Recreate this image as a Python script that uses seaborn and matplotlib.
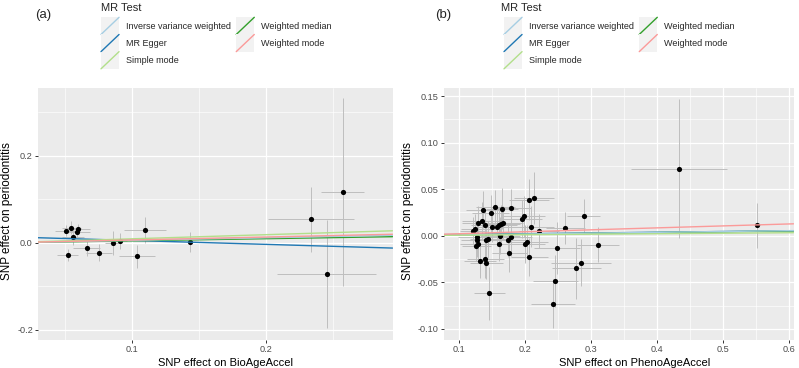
import numpy as np
import pandas as pd
import seaborn as sns
import matplotlib
matplotlib.use("Agg")
import matplotlib.pyplot as plt
from matplotlib.legend_handler import HandlerBase
from matplotlib.patches import Rectangle
from matplotlib.lines import Line2D
from matplotlib.ticker import FixedLocator, FormatStrFormatter

# ---------------- data ----------------
methods = ["Inverse variance weighted", "MR Egger", "Simple mode",
           "Weighted median", "Weighted mode"]
method_colors = ["#a6cee3", "#1f78b4", "#b2df8a", "#33a02c", "#fb9a99"]
draw_order = ["MR Egger", "Weighted median", "Inverse variance weighted",
              "Simple mode", "Weighted mode"]

# Panel (a): BioAgeAccel
a_x = [0.0505, 0.052, 0.0547, 0.056, 0.059, 0.060, 0.0664, 0.0754, 0.086,
       0.091, 0.104, 0.1095, 0.143, 0.233, 0.257, 0.245]
a_y = [0.028, -0.028, 0.035, 0.013, 0.025, 0.032, -0.012, -0.022, 0.000,
       0.005, -0.031, 0.030, 0.003, 0.054, 0.117, -0.071]
a_xse = [0.008, 0.008, 0.007, 0.008, 0.010, 0.009, 0.010, 0.010, 0.006,
         0.005, 0.0135, 0.0155, 0.002, 0.032, 0.016, 0.037]
a_yse = [0.013, 0.013, 0.015, 0.017, 0.012, 0.012, 0.017, 0.020, 0.027,
         0.018, 0.027, 0.030, 0.023, 0.074, 0.215, 0.124]
a_slope = [0.060, -0.090, 0.095, 0.049, 0.068]
a_intercept = [0.0, 0.0147, 0.0, 0.0, 0.0]

# Panel (b): PhenoAgeAccel
b_x = [0.1226, 0.1256, 0.130, 0.135, 0.1367, 0.1407, 0.1487, 0.1558, 0.151,
       0.159, 0.162, 0.165, 0.168, 0.166, 0.180, 0.1286, 0.1286, 0.130,
       0.1266, 0.1327, 0.1407, 0.1417, 0.141, 0.1447, 0.162, 0.163, 0.1744,
       0.180, 0.177, 0.1467, 0.1965, 0.199, 0.207, 0.214, 0.210, 0.222,
       0.201, 0.2035, 0.207, 0.249, 0.2467, 0.2432, 0.2618, 0.290, 0.2784,
       0.2854, 0.311, 0.434, 0.552]
b_y = [0.0054, 0.0068, 0.014, 0.016, 0.028, 0.012, 0.024, 0.031, 0.0096,
       0.0093, 0.012, 0.013, 0.014, 0.029, 0.030, -0.001, -0.005, -0.009,
       -0.011, -0.027, -0.025, -0.029, -0.005, -0.004, -0.009, 0.000, -0.005,
       -0.0014, -0.019, -0.062, 0.018, 0.021, 0.0386, 0.0407, 0.0096, 0.005,
       -0.009, -0.0064, -0.023, -0.013, -0.0486, -0.073, 0.0086, 0.0214, -0.035,
       -0.029, -0.0096, 0.072, 0.011]
b_xse = [0.020, 0.022, 0.025, 0.030, 0.025, 0.022, 0.028, 0.030, 0.025,
         0.030, 0.026, 0.028, 0.030, 0.024, 0.030, 0.030, 0.025, 0.028,
         0.022, 0.024, 0.028, 0.025, 0.030, 0.027, 0.028, 0.030, 0.030,
         0.032, 0.026, 0.024, 0.030, 0.032, 0.030, 0.030, 0.035, 0.030,
         0.030, 0.032, 0.028, 0.035, 0.034, 0.033, 0.030, 0.025, 0.037,
         0.045, 0.032, 0.072, 0.004]
b_yse = [0.015, 0.016, 0.018, 0.020, 0.020, 0.017, 0.020, 0.018, 0.016,
         0.020, 0.018, 0.020, 0.018, 0.022, 0.020, 0.016, 0.018, 0.017,
         0.016, 0.018, 0.020, 0.017, 0.018, 0.020, 0.018, 0.020, 0.018,
         0.020, 0.020, 0.028, 0.020, 0.022, 0.022, 0.028, 0.022, 0.018,
         0.020, 0.018, 0.020, 0.028, 0.028, 0.026, 0.017, 0.018, 0.033,
         0.025, 0.019, 0.075, 0.024]
b_slope = [0.009, 0.008, 0.0053, 0.0085, 0.021]
b_intercept = [0.0, 0.0005, 0.0, 0.0, 0.0]

a_xticks = [0.1, 0.2]
a_yticks = [-0.2, 0.0, 0.2]
b_xticks = [0.1, 0.2, 0.3, 0.4, 0.5, 0.6]
b_yticks = [-0.10, -0.05, 0.00, 0.05, 0.10, 0.15]

# ---------------- style ----------------
sns.set_theme(style="darkgrid")
plt.rcParams["font.family"] = ["Liberation Sans", "DejaVu Sans"]
plt.rcParams["axes.unicode_minus"] = False

W, H = 799, 368
fig = plt.figure(figsize=(W / 100, H / 100), dpi=100)
fig.patch.set_facecolor("white")


class DiagHandler(HandlerBase):
    def create_artists(self, legend, orig_handle, xdescent, ydescent,
                       width, height, fontsize, trans):
        x0, y0 = -xdescent, -ydescent
        rect = Rectangle((x0, y0), width, height, facecolor="#F2F2F2",
                         edgecolor="none", transform=trans)
        line = Line2D([x0, x0 + width], [y0, y0 + height],
                      color=orig_handle.get_color(), lw=1.0, transform=trans)
        return [rect, line]


def draw_panel(ax, xs, ys, xse, yse, slopes, intercepts, xlim, ylim,
               xmaj, xmin, ymaj, ymin, xfmt, yfmt, xlabel, xlab_pos):
    df = pd.DataFrame({"x": xs, "y": ys, "xse": xse, "yse": yse})
    ax.set_facecolor("#EBEBEB")
    ax.errorbar(df["x"], df["y"], yerr=df["yse"], fmt="none",
                ecolor="#BEBEBE", elinewidth=0.7, capsize=0, zorder=2)
    ax.errorbar(df["x"], df["y"], xerr=df["xse"], fmt="none",
                ecolor="#BEBEBE", elinewidth=0.7, capsize=0, zorder=2)
    sns.scatterplot(data=df, x="x", y="y", ax=ax, color="black", s=14,
                    linewidth=0, zorder=3, legend=False)
    for m in draw_order:
        i = methods.index(m)
        ax.axline((0.0, intercepts[i]), slope=slopes[i],
                  color=method_colors[i], lw=1.0, zorder=4)
    ax.set_xlim(*xlim)
    ax.set_ylim(*ylim)
    ax.xaxis.set_major_locator(FixedLocator(xmaj))
    ax.xaxis.set_minor_locator(FixedLocator(xmin))
    ax.yaxis.set_major_locator(FixedLocator(ymaj))
    ax.yaxis.set_minor_locator(FixedLocator(ymin))
    ax.xaxis.set_major_formatter(FormatStrFormatter(xfmt))
    ax.yaxis.set_major_formatter(FormatStrFormatter(yfmt))
    ax.grid(which="major", color="white", lw=0.9)
    ax.grid(which="minor", color="white", lw=0.45)
    ax.set_axisbelow(True)
    ax.tick_params(which="major", length=2.2, width=0.7, color="#333333",
                   labelsize=6.6, labelcolor="#4D4D4D", pad=1.5,
                   bottom=True, left=True)
    ax.tick_params(which="minor", length=0)
    for s in ax.spines.values():
        s.set_visible(False)
    ax.set_xlabel(xlabel, fontsize=8, color="black", labelpad=3)
    ax.xaxis.label.set_x(xlab_pos)
    ax.set_ylabel("SNP effect on periodontitis", fontsize=8.4,
                  color="black", labelpad=3)
    ax.yaxis.label.set_y(0.512)


axA = fig.add_axes([38 / W, 1 - 340 / H, (392.5 - 38) / W, (340 - 88) / H])
axB = fig.add_axes([444 / W, 1 - 340 / H, (793.5 - 444) / W, (340 - 88) / H])

draw_panel(axA, a_x, a_y, a_xse, a_yse, a_slope, a_intercept,
           (0.030, 0.294), (-0.223, 0.356),
           a_xticks, [0.05, 0.15, 0.25], a_yticks, [-0.1, 0.1, 0.3],
           "%.1f", "%.1f", "SNP effect on BioAgeAccel", 0.529)
draw_panel(axB, b_x, b_y, b_xse, b_yse, b_slope, b_intercept,
           (0.078, 0.6075), (-0.112, 0.1586),
           b_xticks, [0.15, 0.25, 0.35, 0.45, 0.55],
           b_yticks, [-0.075, -0.025, 0.025, 0.075, 0.125],
           "%.1f", "%.2f", "SNP effect on PhenoAgeAccel", 0.545)

handles = [Line2D([], [], color=c, label=m)
           for m, c in zip(methods, method_colors)]
for title_x, key_x in ((101 / W, 101 / W), (501 / W, 504 / W)):
    fig.text(title_x, 1 - 8 / H, "MR Test", fontsize=8, va="center",
             ha="left")
    fig.legend(handles=handles, labels=methods, loc="upper left",
               bbox_to_anchor=(key_x, 1 - 17.3 / H), ncol=2,
               frameon=False, fontsize=6.5, handlelength=2.0,
               handleheight=2.55, labelspacing=0.0, handletextpad=0.75,
               columnspacing=0.6, borderpad=0.0, borderaxespad=0.0,
               handler_map={Line2D: DiagHandler()})

fig.text(35 / W, 1 - 15 / H, "(a)", fontsize=9.5, va="center", ha="left")
fig.text(435 / W, 1 - 15 / H, "(b)", fontsize=9.5, va="center", ha="left")

fig.savefig("out.png", dpi=100, facecolor="white")
